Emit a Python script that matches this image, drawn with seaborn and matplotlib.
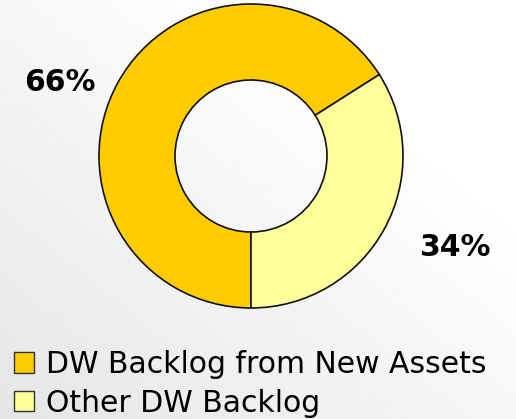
import numpy as np
import matplotlib
matplotlib.use("Agg")
import matplotlib.pyplot as plt
from matplotlib.patches import Patch
import seaborn as sns

categories = ["DW Backlog from New Assets", "Other DW Backlog"]
values = [66, 34]
labels = ["66%", "34%"]
colors = ["#FFCC00", "#FFFF99"]

sns.set_style("white")
plt.rcParams['font.family'] = ['DejaVu Sans']
plt.rcParams['text.color'] = 'black'

fig = plt.figure(figsize=(5.16, 4.19), dpi=100)

# background gradient
bg = fig.add_axes([0, 0, 1, 1], zorder=-10)
yy, xx = np.mgrid[0:1:200j, 0:1:200j]
g = 0.90 + 0.10 * np.clip((xx + (1 - yy)) / 1.5, 0, 1)
bg.imshow(g, cmap="gray", vmin=0, vmax=1, aspect="auto", extent=[0, 1, 0, 1], origin="upper")
bg.axis("off")

W, H = 516, 419
cx, cy, r = 251, 156, 152
ax = fig.add_axes([(cx - r) / W, (H - cy - r) / H, 2 * r / W, 2 * r / H])
ax.set_facecolor("none")
wedges, _ = ax.pie(values, colors=colors, startangle=32.4, counterclock=True,
                   radius=1.0,
                   wedgeprops=dict(width=0.5, edgecolor="#111111", linewidth=1.2))
ax.set_xlim(-1, 1)
ax.set_ylim(-1, 1)
ax.set_aspect("equal")
ax.axis("off")

fig.text(60 / W, 1 - 82 / H, labels[0], ha="center", va="center",
         fontsize=21.5, fontweight="bold", color="black")
fig.text(455 / W, 1 - 247 / H, labels[1], ha="center", va="center",
         fontsize=21.5, fontweight="bold", color="black")

handles = [Patch(facecolor=c, edgecolor="#333333", linewidth=1) for c in colors]
leg = fig.legend(handles, categories, loc="upper left",
                 bbox_to_anchor=(2 / W, 1 - 338 / H), frameon=False,
                 fontsize=21.5, handlelength=0.66, handleheight=0.66,
                 handletextpad=0.4, labelspacing=0.33, borderaxespad=0,
                 labelcolor="black")

fig.savefig("out.png", dpi=100)
